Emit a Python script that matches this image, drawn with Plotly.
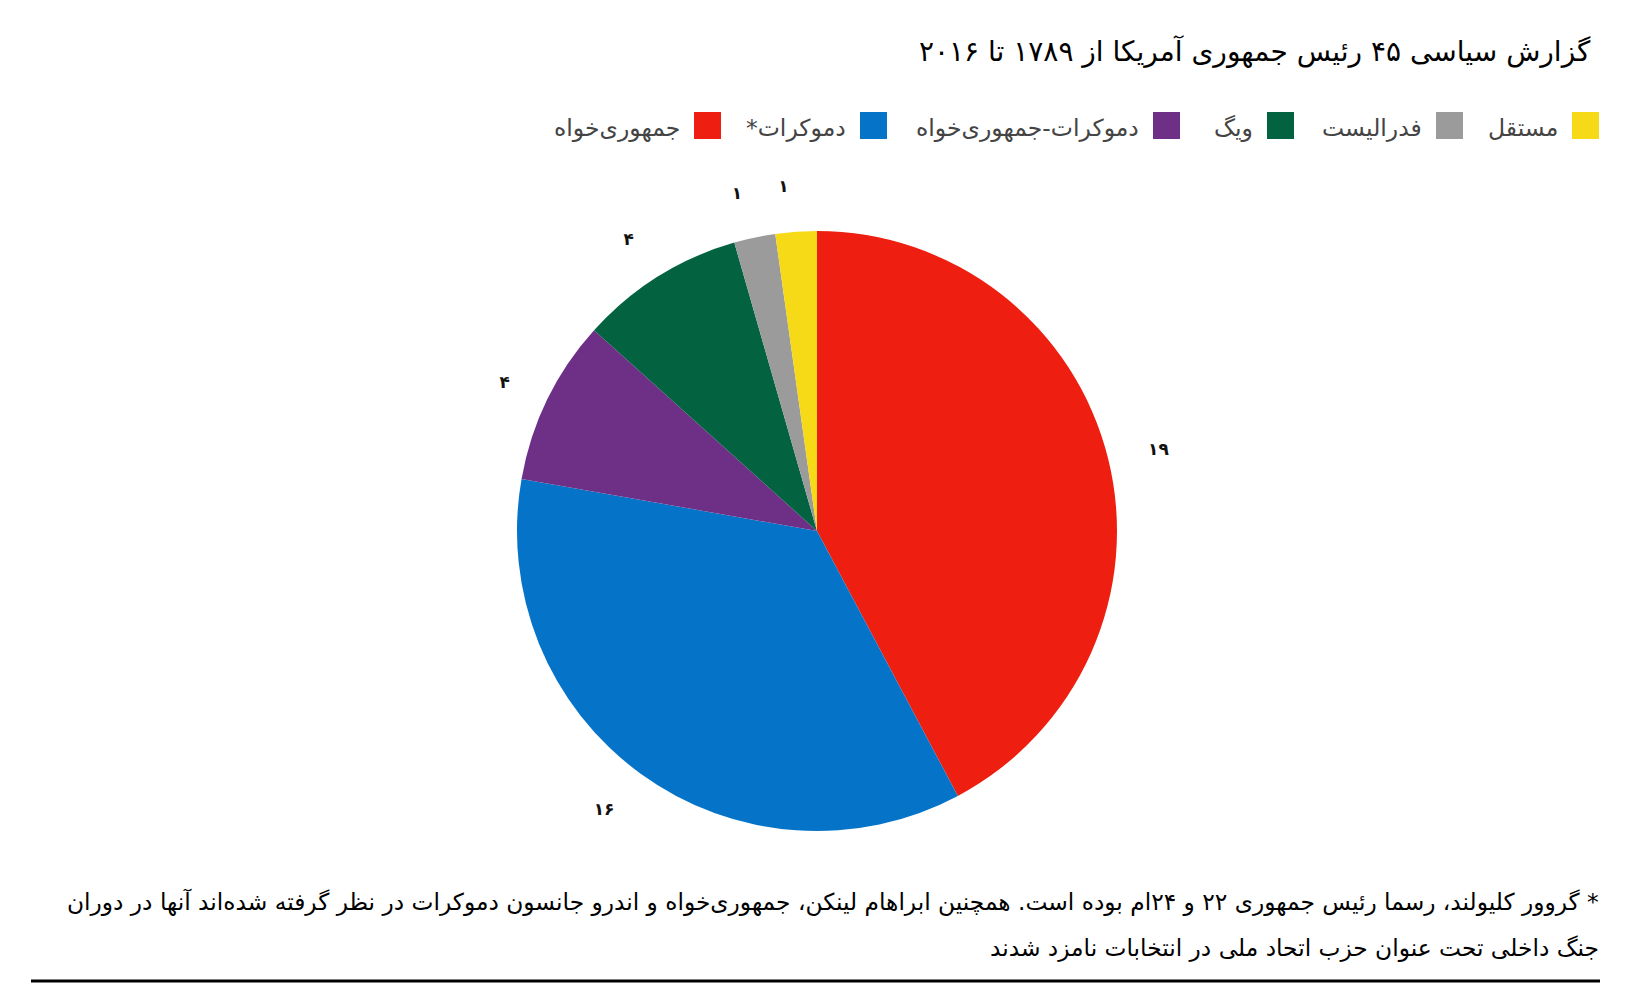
import plotly.graph_objects as go

# The page has an 8px body margin, so page pixel p maps to figure pixel p - 8.
OFF = 8
FW, FH = 1624, 976

# ---- data ----
parties = ["جمهوری‌خواه", "دموکرات*\u200f", "دموکرات-جمهوری‌خواه", "ویگ", "فدرالیست", "مستقل"]
counts = [19, 16, 4, 4, 1, 1]
colors = ["#EE1F10", "#0574C8", "#6E2F87", "#036340", "#9B9B9B", "#F6D917"]
title_text = "گزارش سیاسی ۴۵ رئیس جمهوری آمریکا از ۱۷۸۹ تا ۲۰۱۶"
footnote_lines = [
    "\u200f* گروور کلیولند، رسما رئیس جمهوری ۲۲ و ۲۴ام بوده است. همچنین ابراهام لینکن، جمهوری‌خواه و اندرو جانسون دموکرات در نظر گرفته شده‌اند آنها در دوران",
    "جنگ داخلی تحت عنوان حزب اتحاد ملی در انتخابات نامزد شدند",
]

fa_digits = str.maketrans("0123456789", "۰۱۲۳۴۵۶۷۸۹")
count_labels = [str(c).translate(fa_digits) for c in counts]

FONT = "DejaVu Sans"


def px(x):
    return (x - OFF) / FW


def py(y):
    return 1 - (y - OFF) / FH


# ---- layout geometry (page pixels) ----
cx, cy, R = 817, 531, 300
R_LAB = 336


def dom(r):
    return dict(x=[px(cx - r), px(cx + r)], y=[py(cy + r), py(cy - r)])


fig = go.Figure()
fig.add_trace(go.Pie(
    labels=parties, values=counts, sort=False, direction="clockwise", rotation=0,
    marker=dict(colors=colors, line=dict(width=0)),
    textinfo="none", domain=dom(R), showlegend=False, hoverinfo="label+value",
))

# transparent, slightly larger pies that only carry the outside labels
# (split in two so the two small neighbouring labels are not pushed apart)
label_sets = [
    [t if i < len(count_labels) - 1 else "" for i, t in enumerate(count_labels)],
    [t if i == len(count_labels) - 1 else "" for i, t in enumerate(count_labels)],
]
for txt in label_sets:
    fig.add_trace(go.Pie(
        labels=parties, values=counts, sort=False, direction="clockwise", rotation=0,
        marker=dict(colors=["rgba(0,0,0,0)"] * len(counts), line=dict(width=0)),
        text=txt, textinfo="text", textposition="outside",
        outsidetextfont=dict(family=FONT, size=17, color="#111111", weight="bold"),
        domain=dom(R_LAB), showlegend=False, hoverinfo="skip",
    ))

annotations = []
shapes = []

# title
annotations.append(dict(
    text=title_text, x=px(1593), y=py(52), xref="paper", yref="paper",
    xanchor="right", yanchor="middle", showarrow=False,
    font=dict(family=FONT, size=28, color="#000000"),
))

# manual RTL legend: square on the right of each label
legend_sq_left = [694, 860, 1153, 1267, 1436, 1572]
SQ = 27
for name, col, x0 in zip(parties, colors, legend_sq_left):
    shapes.append(dict(
        type="rect", xref="paper", yref="paper",
        x0=px(x0), x1=px(x0 + SQ), y0=py(139), y1=py(112),
        fillcolor=col, line=dict(width=0),
    ))
    annotations.append(dict(
        text=name, x=px(x0 - 12), y=py(128), xref="paper", yref="paper",
        xanchor="right", yanchor="middle", showarrow=False,
        font=dict(family=FONT, size=23.5, color="#444444"),
    ))

# footnote
for line, yy in zip(footnote_lines, [902, 948]):
    annotations.append(dict(
        text=line, x=px(1601), y=py(yy), xref="paper", yref="paper",
        xanchor="right", yanchor="middle", showarrow=False,
        font=dict(family=FONT, size=23.3, color="#000000"),
    ))

shapes.append(dict(
    type="line", xref="paper", yref="paper",
    x0=px(31), x1=px(1600), y0=py(981), y1=py(981),
    line=dict(color="#000000", width=3),
))

fig.update_layout(
    width=FW, height=FH,
    margin=dict(l=0, r=0, t=0, b=0),
    paper_bgcolor="white", plot_bgcolor="white",
    annotations=annotations, shapes=shapes,
    font=dict(family=FONT),
)

fig.write_html("out.html")
